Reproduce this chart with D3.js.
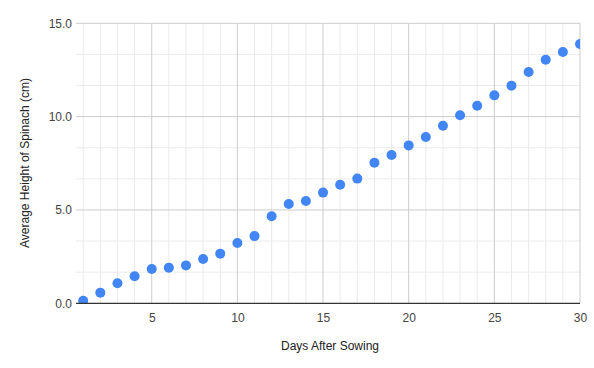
<!DOCTYPE html>
<html>
<head>
<meta charset="utf-8">
<script src="https://cdn.jsdelivr.net/npm/d3@7"></script>
<style>
  body { margin: 0; background: #fff; }
  text { font-family: "Liberation Sans", Arial, sans-serif; }
</style>
</head>
<body>
<script>
// data
const days = d3.range(1, 31);
const heights = [0.14, 0.57, 1.07, 1.45, 1.84, 1.91, 2.03, 2.37, 2.66, 3.23,
  3.6, 4.66, 5.32, 5.48, 5.93, 6.35, 6.68, 7.53, 7.94, 8.46,
  8.91, 9.51, 10.07, 10.58, 11.14, 11.66, 12.39, 13.05, 13.46, 13.89];
const xTicks = [5, 10, 15, 20, 25, 30];
const yTicks = [0, 5, 10, 15];
const xLabel = "Days After Sowing";
const yLabel = "Average Height of Spinach (cm)";

const width = 594, height = 368;
const plotLeft = 76, plotRight = 580, plotTop = 23.3, plotBottom = 303.3;

const svg = d3.select("body").append("svg").attr("width", width).attr("height", height);

svg.append("clipPath").attr("id", "plot-clip")
  .append("rect")
  .attr("x", plotLeft).attr("y", plotTop)
  .attr("width", plotRight - plotLeft).attr("height", plotBottom - plotTop);

/** scales */
const xScale = d3.scaleLinear().domain([1, 30]).range([83.2, plotRight]);
const yScale = d3.scaleLinear().domain([0, 15]).range([plotBottom, plotTop]);

// minor gridlines
const xMinor = d3.range(1, 31).filter(d => !xTicks.includes(d));
const yMinor = d3.range(0, 15.01, 5 / 3).filter(d => !yTicks.some(t => Math.abs(t - d) < 1e-6));

svg.append("g").selectAll("line").data(xMinor).join("line")
  .attr("x1", d => xScale(d)).attr("x2", d => xScale(d))
  .attr("y1", plotTop).attr("y2", plotBottom)
  .attr("stroke", "#ebebeb").attr("stroke-width", 1);
svg.append("g").selectAll("line").data(yMinor).join("line")
  .attr("x1", plotLeft).attr("x2", plotRight)
  .attr("y1", d => yScale(d)).attr("y2", d => yScale(d))
  .attr("stroke", "#ebebeb").attr("stroke-width", 1);

// major gridlines
svg.append("g").selectAll("line").data(xTicks).join("line")
  .attr("x1", d => xScale(d)).attr("x2", d => xScale(d))
  .attr("y1", plotTop).attr("y2", plotBottom)
  .attr("stroke", "#cccccc").attr("stroke-width", 1);
svg.append("g").selectAll("line").data(yTicks.filter(d => d > 0)).join("line")
  .attr("x1", plotLeft).attr("x2", plotRight)
  .attr("y1", d => yScale(d)).attr("y2", d => yScale(d))
  .attr("stroke", "#cccccc").attr("stroke-width", 1);

/** axes (labels only) */
const axisx = d3.axisBottom(xScale).tickValues(xTicks).tickSize(0).tickPadding(10).tickFormat(d3.format("d"));
const axisy = d3.axisLeft(yScale).tickValues(yTicks).tickSize(0).tickPadding(4).tickFormat(d3.format(".1f"));

const gx = svg.append("g").attr("transform", "translate(0," + plotBottom + ")").call(axisx);
const gy = svg.append("g").attr("transform", "translate(" + plotLeft + ",0)").call(axisy);
[gx, gy].forEach(g => {
  g.select(".domain").remove();
  g.selectAll("text").attr("fill", "#444").style("font-size", "12px")
    .style("font-family", "'Liberation Sans', Arial, sans-serif");
});

// points (clipped to the plot area)
svg.append("g").attr("clip-path", "url(#plot-clip)")
  .selectAll("circle").data(days).join("circle")
  .attr("cx", (d, i) => xScale(d))
  .attr("cy", (d, i) => yScale(heights[i]))
  .attr("r", 5)
  .attr("fill", "#4285f4");

// baseline
svg.append("line")
  .attr("x1", plotLeft).attr("x2", plotRight)
  .attr("y1", yScale(0)).attr("y2", yScale(0))
  .attr("stroke", "#333").attr("stroke-width", 1.3);

// axis titles
svg.append("text")
  .attr("x", 330).attr("y", 350)
  .attr("text-anchor", "middle")
  .attr("fill", "#222").style("font-size", "12px")
  .text(xLabel);
svg.append("text")
  .attr("transform", "translate(29,163) rotate(-90)")
  .attr("text-anchor", "middle")
  .attr("fill", "#222").style("font-size", "12px")
  .text(yLabel);
</script>
</body>
</html>
